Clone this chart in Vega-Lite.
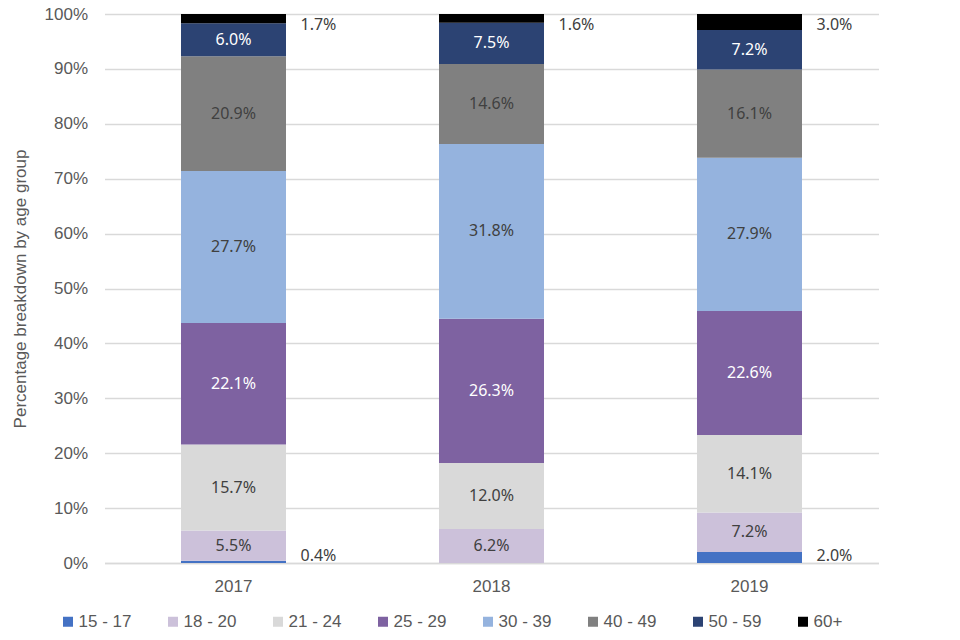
{
  "$schema": "https://vega.github.io/schema/vega-lite/v6.json",
  "width": 774,
  "height": 549,
  "autosize": {"type": "none"},
  "padding": {"left": 104.5, "top": 14, "right": 81.5, "bottom": 77},
  "background": "white",
  "config": {
    "view": {"stroke": null},
    "font": "Liberation Sans",
    "axis": {"labelFont": "Liberation Sans", "titleFont": "Liberation Sans"},
    "legend": {"labelFont": "Liberation Sans"}
  },
  "data": {
    "values": [
      {"year": "2017", "group": "15 - 17", "value": 0.004},
      {"year": "2017", "group": "18 - 20", "value": 0.055},
      {"year": "2017", "group": "21 - 24", "value": 0.157},
      {"year": "2017", "group": "25 - 29", "value": 0.221},
      {"year": "2017", "group": "30 - 39", "value": 0.277},
      {"year": "2017", "group": "40 - 49", "value": 0.209},
      {"year": "2017", "group": "50 - 59", "value": 0.060},
      {"year": "2017", "group": "60+", "value": 0.017},
      {"year": "2018", "group": "15 - 17", "value": 0.0},
      {"year": "2018", "group": "18 - 20", "value": 0.062},
      {"year": "2018", "group": "21 - 24", "value": 0.120},
      {"year": "2018", "group": "25 - 29", "value": 0.263},
      {"year": "2018", "group": "30 - 39", "value": 0.318},
      {"year": "2018", "group": "40 - 49", "value": 0.146},
      {"year": "2018", "group": "50 - 59", "value": 0.075},
      {"year": "2018", "group": "60+", "value": 0.016},
      {"year": "2019", "group": "15 - 17", "value": 0.020},
      {"year": "2019", "group": "18 - 20", "value": 0.072},
      {"year": "2019", "group": "21 - 24", "value": 0.141},
      {"year": "2019", "group": "25 - 29", "value": 0.226},
      {"year": "2019", "group": "30 - 39", "value": 0.279},
      {"year": "2019", "group": "40 - 49", "value": 0.161},
      {"year": "2019", "group": "50 - 59", "value": 0.072},
      {"year": "2019", "group": "60+", "value": 0.030}
    ]
  },
  "transform": [
    {"stack": "value", "groupby": ["year"], "sort": [{"field": "group", "order": "ascending"}], "as": ["y0", "y1"]},
    {"calculate": "(datum.y0 + datum.y1) / 2", "as": "mid"}
  ],
  "encoding": {
    "x": {
      "field": "year",
      "type": "nominal",
      "scale": {"paddingInner": 0.593, "paddingOuter": 0.2965},
      "axis": {
        "title": null,
        "labelAngle": 0,
        "labelFont": "Liberation Sans",
        "labelFontSize": 17,
        "labelColor": "#595959",
        "labelPadding": 15,
        "ticks": false,
        "domain": true,
        "domainColor": "#D9D9D9",
        "domainWidth": 1.5
      }
    }
  },
  "layer": [
    {
      "mark": {"type": "bar"},
      "encoding": {
        "y": {
          "field": "y0",
          "type": "quantitative",
          "scale": {"domain": [0, 1], "clamp": true},
          "axis": {
            "values": [0, 0.1, 0.2, 0.3, 0.4, 0.5, 0.6, 0.7, 0.8, 0.9, 1],
            "format": ".0%",
            "grid": true,
            "gridColor": "#D9D9D9",
            "gridWidth": 1.5,
            "domain": false,
            "ticks": false,
            "labelFont": "Liberation Sans",
            "labelFontSize": 17,
            "labelColor": "#595959",
            "labelPadding": 17,
            "title": "Percentage breakdown by age group",
            "titleFont": "Liberation Sans",
            "titleFontSize": 17,
            "titleFontWeight": "normal",
            "titleColor": "#595959",
            "titlePadding": 15
          }
        },
        "y2": {"field": "y1"},
        "color": {
          "field": "group",
          "type": "nominal",
          "scale": {
            "domain": ["15 - 17", "18 - 20", "21 - 24", "25 - 29", "30 - 39", "40 - 49", "50 - 59", "60+"],
            "range": ["#4472C4", "#CCC1DA", "#D9D9D9", "#7E62A1", "#95B3DE", "#808080", "#2C4373", "#000000"]
          },
          "legend": {
            "title": null,
            "orient": "none",
            "direction": "horizontal",
            "columns": 8,
            "legendX": -45,
            "legendY": 599,
            "padding": 0,
            "symbolType": "square",
            "symbolSize": 100,
            "symbolStrokeWidth": 0,
            "labelFont": "Liberation Sans",
            "labelFontSize": 17,
            "labelColor": "#595959",
            "labelOffset": 2,
            "columnPadding": 33
          }
        }
      }
    },
    {
      "transform": [{"filter": "datum.group != '15 - 17' && datum.group != '60+' && datum.value > 0"}],
      "mark": {"type": "text", "font": "Noto Sans", "fontSize": 16, "baseline": "middle", "align": "center"},
      "encoding": {
        "y": {"field": "mid", "type": "quantitative"},
        "text": {"field": "value", "type": "quantitative", "format": ".1%"},
        "color": {
          "condition": {"test": "datum.group == '25 - 29' || datum.group == '50 - 59'", "value": "#FFFFFF"},
          "value": "#404040"
        }
      }
    },
    {
      "transform": [{"filter": "datum.group == '60+'"}],
      "mark": {"type": "text", "font": "Noto Sans", "fontSize": 16, "baseline": "top", "align": "left", "dx": 67, "dy": 3, "color": "#404040"},
      "encoding": {
        "y": {"field": "y1", "type": "quantitative"},
        "text": {"field": "value", "type": "quantitative", "format": ".1%"}
      }
    },
    {
      "transform": [{"filter": "datum.group == '15 - 17' && datum.value > 0"}],
      "mark": {"type": "text", "font": "Noto Sans", "fontSize": 16, "baseline": "alphabetic", "align": "left", "dx": 67, "dy": -2, "color": "#404040"},
      "encoding": {
        "y": {"field": "y0", "type": "quantitative"},
        "text": {"field": "value", "type": "quantitative", "format": ".1%"}
      }
    }
  ]
}
